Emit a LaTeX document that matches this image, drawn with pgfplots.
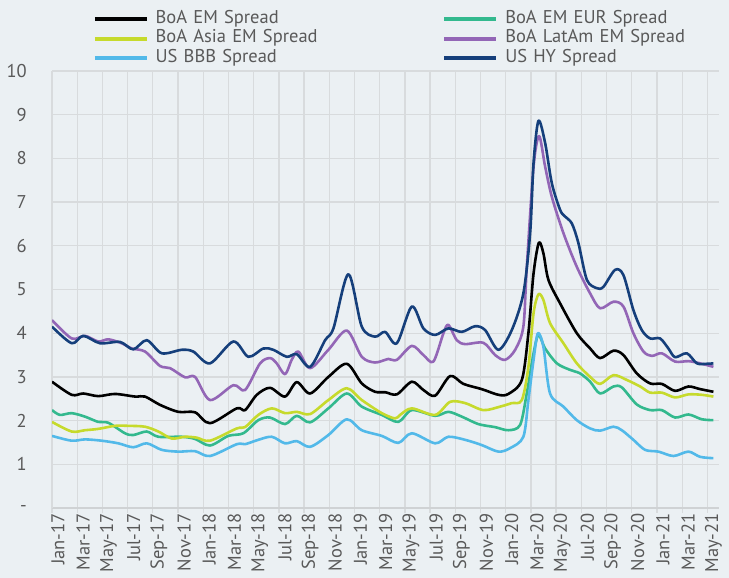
\documentclass[border=0pt]{standalone}
\usepackage{fontspec}
\setmainfont{PT Sans}
\usepackage{pgfplots}
\pgfplotsset{compat=1.18}
\definecolor{bgc}{HTML}{EBF0F3}
\definecolor{gridc}{HTML}{D8DBDD}
\definecolor{axc}{HTML}{CFD2D4}
\definecolor{txt}{HTML}{595959}
\definecolor{cEM}{HTML}{000000}
\definecolor{cEUR}{HTML}{33B98E}
\definecolor{cAsia}{HTML}{C6DA2C}
\definecolor{cLat}{HTML}{9366B6}
\definecolor{cBBB}{HTML}{52B9E9}
\definecolor{cHY}{HTML}{153F7B}
\begin{document}
\begin{tikzpicture}
\fill[bgc] (0,0) rectangle (729pt,578pt);
\useasboundingbox (0,0) rectangle (729pt,578pt);
\begin{axis}[
  at={(52pt,70pt)}, anchor=south west,
  scale only axis, width=666.7pt, height=437pt,
  xmin=0, xmax=52.9, ymin=0, ymax=10,
  axis x line*=bottom, axis y line*=left,
  axis line style={draw=gridc, line width=1.3pt, -},
  x axis line style={draw=axc},
  xtick={0,2,...,52},
  xticklabels={Jan-17,Mar-17,May-17,Jul-17,Sep-17,Nov-17,Jan-18,Mar-18,May-18,Jul-18,Sep-18,Nov-18,Jan-19,Mar-19,May-19,Jul-19,Sep-19,Nov-19,Jan-20,Mar-20,May-20,Jul-20,Sep-20,Nov-20,Jan-21,Mar-21,May-21},
  ytick={0,1,...,10},
  yticklabels={-,1,2,3,4,5,6,7,8,9,10},
  grid=major, grid style={draw=gridc, line width=1.3pt},
  tick align=outside, major tick length=5pt,
  xtick style={draw=gridc, line width=1.3pt},
  ytick style={draw=none},
  tick label style={font=\fontsize{18.5}{18.5}\selectfont, text=txt},
  xticklabel style={xshift=6pt, rotate=90, anchor=east, inner sep=0pt},
  yticklabel style={anchor=east, inner sep=0pt, xshift=-20pt},
  legend style={
    at={(axis description cs:0.0616,1.139)}, anchor=north west,
    draw=none, fill=none, inner sep=0pt, outer sep=0pt,
    font=\fontsize{18.5}{19}\selectfont, text=txt,
    row sep=1.5pt,
    nodes={inner sep=0pt, text height=13pt, text depth=5pt},
    /tikz/every odd column/.append style={column sep=7pt},
    /tikz/every even column/.append style={text width=287pt},
  },
  legend columns=2,
  legend cell align=left,
  legend image code/.code={\draw[#1, line width=3.6pt] (0pt,0pt) -- (52pt,0pt);},
  every axis plot/.append style={line width=2.6pt, smooth, tension=0.5, line join=round, no marks},
]
% BoA EM Spread
\addplot[cEM] coordinates {
(0,2.89) (1.56,2.59) (2.48,2.62) (3.67,2.56) (5.0,2.61) (6.59,2.55) (7.38,2.55) (8.57,2.36) (10.02,2.20) (11.35,2.19) (12.54,1.94) (14.66,2.28) (15.32,2.24) (16.25,2.59) (17.30,2.75) (18.49,2.55) (19.42,2.88) (20.48,2.62) (21.93,3.00) (23.39,3.30) (24.58,2.85) (25.63,2.66) (26.43,2.65) (27.36,2.60) (28.55,2.89) (29.47,2.70) (30.40,2.57) (31.59,3.02) (32.64,2.84) (34.10,2.72) (35.42,2.59) (36.21,2.61) (37.28,2.93) (37.80,4.00) (38.21,5.37) (38.63,6.07) (38.99,5.83) (39.39,5.22) (40.32,4.68) (41.64,4.00) (42.70,3.65) (43.49,3.43) (44.55,3.60) (45.34,3.50) (46.40,3.08) (47.46,2.85) (48.39,2.84) (49.44,2.68) (50.50,2.78) (51.43,2.72) (52.48,2.66)
};
\addlegendentry{BoA EM Spread}
% BoA EM EUR Spread
\addplot[cEUR] coordinates {
(0,2.24) (0.63,2.13) (1.56,2.17) (2.62,2.09) (3.67,1.97) (4.47,1.95) (5.79,1.71) (6.45,1.67) (7.52,1.75) (8.44,1.63) (10.29,1.63) (11.35,1.58) (12.54,1.43) (13.99,1.65) (15.18,1.71) (16.37,2.01) (17.30,2.07) (18.49,1.92) (19.42,2.11) (20.48,1.96) (21.93,2.28) (23.39,2.62) (24.58,2.32) (26.17,2.13) (27.48,1.97) (28.55,2.24) (30.40,2.11) (31.45,2.20) (32.52,2.09) (33.83,1.92) (35.16,1.85) (36.21,1.78) (37.14,1.90) (37.67,2.62) (38.21,3.54) (38.60,3.96) (39.13,3.65) (40.06,3.31) (41.11,3.16) (41.90,3.08) (42.70,2.89) (43.49,2.62) (44.55,2.78) (45.21,2.76) (46.40,2.37) (47.46,2.24) (48.39,2.24) (49.44,2.07) (50.50,2.14) (51.56,2.03) (52.48,2.01)
};
\addlegendentry{BoA EM EUR Spread}
% BoA Asia EM Spread
\addplot[cAsia] coordinates {
(0,1.97) (1.56,1.75) (2.62,1.78) (3.67,1.81) (5.0,1.88) (6.06,1.88) (7.38,1.86) (8.44,1.75) (9.50,1.59) (10.56,1.63) (11.48,1.61) (12.54,1.54) (14.66,1.82) (15.32,1.85) (16.37,2.13) (17.44,2.28) (18.49,2.17) (19.42,2.20) (20.48,2.15) (21.93,2.47) (23.39,2.74) (24.58,2.47) (26.17,2.17) (27.22,2.05) (27.62,2.13) (28.55,2.28) (30.40,2.13) (31.59,2.43) (32.78,2.40) (34.23,2.24) (35.56,2.32) (36.48,2.40) (37.28,2.47) (37.80,3.23) (38.21,4.46) (38.60,4.89) (38.99,4.76) (39.52,4.23) (40.58,3.77) (41.64,3.31) (42.70,3.00) (43.49,2.84) (44.55,3.04) (45.61,2.93) (46.67,2.78) (47.46,2.64) (48.39,2.64) (49.44,2.53) (50.50,2.60) (51.56,2.59) (52.48,2.55)
};
\addlegendentry{BoA Asia EM Spread}
% BoA LatAm EM Spread
\addplot[cLat] coordinates {
(0,4.30) (1.56,3.88) (2.62,3.94) (3.67,3.81) (4.47,3.86) (5.53,3.77) (6.33,3.65) (7.38,3.58) (8.57,3.25) (9.37,3.20) (10.56,2.99) (11.35,3.00) (12.54,2.47) (14.39,2.81) (15.32,2.70) (16.51,3.31) (17.30,3.43) (17.83,3.31) (18.49,3.06) (19.02,3.39) (19.55,3.58) (20.48,3.20) (21.93,3.62) (23.39,4.06) (24.58,3.46) (25.63,3.33) (26.69,3.41) (27.36,3.39) (28.55,3.71) (29.47,3.50) (30.26,3.35) (31.06,4.00) (31.45,4.19) (32.12,3.84) (32.78,3.75) (34.23,3.78) (35.16,3.50) (35.95,3.39) (36.75,3.62) (37.40,4.15) (37.67,5.50) (38.21,7.81) (38.65,8.51) (39.13,7.81) (39.66,7.12) (40.58,6.29) (41.64,5.52) (42.70,4.91) (43.49,4.57) (44.55,4.72) (45.34,4.61) (46.13,4.00) (46.93,3.58) (47.60,3.48) (48.39,3.54) (49.44,3.35) (50.50,3.36) (51.43,3.31) (52.48,3.23)
};
\addlegendentry{BoA LatAm EM Spread}
% US BBB Spread
\addplot[cBBB] coordinates {
(0,1.65) (1.56,1.54) (2.62,1.57) (3.94,1.54) (5.26,1.48) (6.45,1.39) (7.52,1.48) (8.71,1.33) (10.02,1.29) (11.35,1.30) (12.54,1.19) (14.66,1.46) (15.32,1.46) (16.37,1.56) (17.44,1.63) (18.49,1.48) (19.42,1.53) (20.48,1.40) (21.93,1.67) (23.39,2.03) (24.58,1.78) (26.17,1.65) (27.48,1.49) (28.55,1.71) (30.40,1.48) (31.45,1.63) (32.78,1.56) (34.10,1.44) (35.42,1.29) (36.35,1.37) (37.40,1.63) (37.80,2.47) (38.21,3.39) (38.55,4.00) (38.99,3.69) (39.52,2.62) (40.58,2.32) (41.64,2.01) (42.70,1.82) (43.49,1.77) (44.55,1.86) (45.21,1.78) (46.13,1.56) (47.06,1.33) (48.12,1.29) (49.31,1.19) (50.50,1.29) (51.43,1.17) (52.48,1.14)
};
\addlegendentry{US BBB Spread}
% US HY Spread
\addplot[cHY] coordinates {
(0,4.15) (1.56,3.77) (2.48,3.94) (3.81,3.77) (5.40,3.80) (6.45,3.63) (7.52,3.84) (8.71,3.54) (10.29,3.62) (11.21,3.58) (12.54,3.31) (14.39,3.81) (15.58,3.46) (16.77,3.65) (17.56,3.62) (18.63,3.46) (19.42,3.52) (20.48,3.23) (21.67,3.84) (22.33,4.11) (23.52,5.35) (24.58,4.15) (25.63,3.92) (26.43,4.03) (27.36,3.77) (28.55,4.61) (29.47,4.11) (30.40,3.96) (31.45,4.11) (32.52,4.03) (33.57,4.16) (34.37,4.07) (35.42,3.62) (36.48,4.07) (37.40,4.91) (37.94,6.30) (38.21,7.90) (38.60,8.86) (39.13,8.35) (39.66,7.43) (40.32,6.82) (40.71,6.67) (41.25,6.51) (41.77,6.06) (42.44,5.22) (43.23,5.03) (43.75,5.06) (44.68,5.45) (45.34,5.33) (46.13,4.53) (46.80,4.07) (47.46,3.88) (48.25,3.88) (48.91,3.65) (49.44,3.45) (50.37,3.54) (51.17,3.31) (51.96,3.30) (52.48,3.31)
};
\addlegendentry{US HY Spread}
\end{axis}
\end{tikzpicture}
\end{document}
